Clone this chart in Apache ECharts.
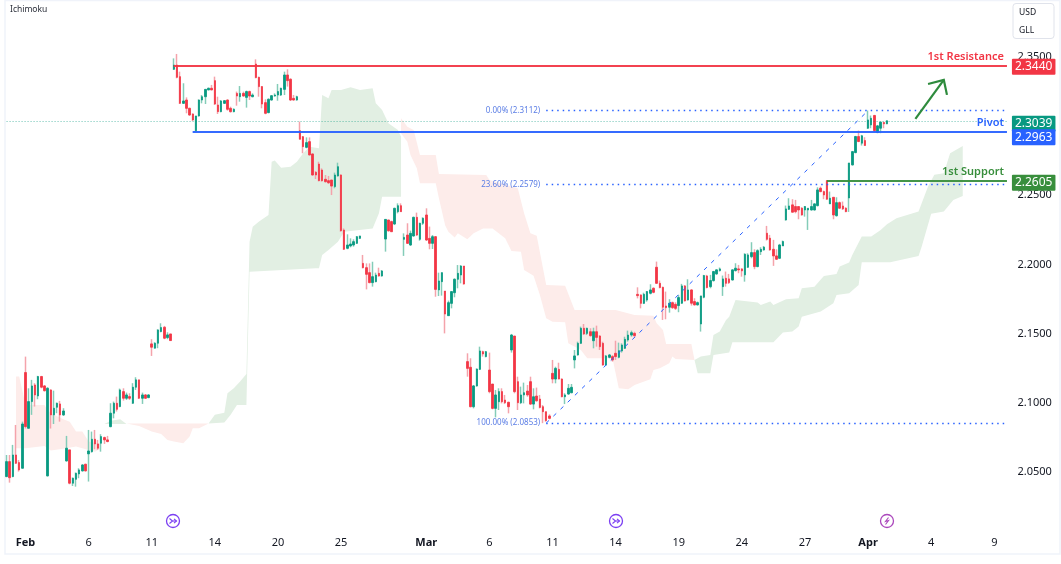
<!DOCTYPE html>
<html>
<head>
<meta charset="utf-8">
<style>
  html, body { margin: 0; padding: 0; background: #fff; }
  #main { width: 1061px; height: 564px; }
</style>
<script src="https://cdn.jsdelivr.net/npm/echarts@6/dist/echarts.min.js"></script>
</head>
<body>
<div id="main"></div>
<script>
// candles are [open, close, low, high], one group per stretch of the chart
var candlesFeb = [
  [2.0467,2.0575,2.0462,2.0623],[2.0575,2.0459,2.0423,2.0623],[2.0467,2.0623,2.0462,2.0696],[2.0623,2.0563,2.0558,2.0840],
  [2.0568,2.0515,2.0503,2.0587],[2.0527,2.0847,2.0525,2.0864],[2.1219,2.0828,2.0814,2.1334],[2.0816,2.1009,2.0814,2.1105],
  [2.1009,2.1122,2.0913,2.1166],[2.1129,2.1057,2.0973,2.1142],[2.1050,2.1190,2.1026,2.1195],[2.1190,2.1113,2.1105,2.1195],
  [2.1122,2.1088,2.1081,2.1129],[2.0472,2.1105,2.0467,2.1113],[2.1093,2.0913,2.0814,2.1098],[2.0913,2.0961,2.0847,2.1088],
  [2.0968,2.0997,2.0925,2.1002],[2.0992,2.0913,2.0864,2.1014],[2.0913,2.0941,2.0905,2.0961],
  [2.0580,2.0672,2.0575,2.0761],[2.0660,2.0419,2.0411,2.0660],[2.0419,2.0455,2.0399,2.0460],[2.0447,2.0491,2.0394,2.0496],
  [2.0486,2.0515,2.0455,2.0527],[2.0508,2.0551,2.0503,2.0556],[2.0556,2.0508,2.0503,2.0560],[2.0631,2.0652,2.0431,2.0804],
  [2.0647,2.0737,2.0640,2.0792],[2.0737,2.0703,2.0664,2.0804],[2.0703,2.0672,2.0660,2.0732],[2.0708,2.0756,2.0647,2.0773],
  [2.0749,2.0732,2.0703,2.0756],[2.0732,2.0720,2.0715,2.0761],
  [2.0828,2.0925,2.0823,2.0997],[2.0925,2.0997,2.0888,2.1009],[2.0997,2.0953,2.0937,2.1045],[2.0973,2.1093,2.0968,2.1103],
  [2.1081,2.1033,2.1016,2.1105],[2.1033,2.1057,2.1021,2.1074],[2.1045,2.1033,2.1021,2.1069],[2.0997,2.1113,2.0992,2.1142],
  [2.1113,2.1166,2.1093,2.1185],[2.1166,2.1033,2.1028,2.1166],[2.1033,2.1057,2.0992,2.1074],[2.1057,2.1033,2.1028,2.1064],
  [2.1038,2.1057,2.1033,2.1062],
  [2.1426,2.1402,2.1339,2.1460],[2.1395,2.1431,2.1392,2.1438],[2.1431,2.1527,2.1395,2.1532],[2.1515,2.1544,2.1510,2.1575],
  [2.1546,2.1467,2.1460,2.1556],[2.1472,2.1491,2.1460,2.1510],[2.1498,2.1450,2.1448,2.1498]
]
var candlesFebTop = [
  [2.3411,2.3442,2.3406,2.3490],[2.3442,2.3353,2.3346,2.3522],[2.3358,2.3165,2.3160,2.3394],[2.3165,2.3182,2.3160,2.3310],
  [2.3189,2.3129,2.3093,2.3208],[2.3129,2.3081,2.3074,2.3134],[2.3088,2.3045,2.3037,2.3093],[2.2967,2.3074,2.2960,2.3074],
  [2.3074,2.3189,2.3069,2.3194],[2.3189,2.3213,2.3165,2.3225],[2.3213,2.3266,2.3160,2.3269],[2.3262,2.3274,2.3259,2.3279],
  [2.3274,2.3262,2.3259,2.3298],[2.3329,2.3160,2.3153,2.3358],[2.3153,2.3105,2.3088,2.3213],[2.3105,2.3182,2.3100,2.3189],
  [2.3165,2.3184,2.3160,2.3189],[2.3189,2.3122,2.3112,2.3194],[2.3129,2.3105,2.3098,2.3141],[2.3105,2.3122,2.3100,2.3129],
  [2.3237,2.3218,2.3148,2.3250],[2.3213,2.3237,2.3177,2.3290],[2.3237,2.3218,2.3213,2.3250],[2.3208,2.3250,2.3134,2.3257],
  [2.3250,2.3218,2.3189,2.3257],[2.3213,2.3225,2.3208,2.3237],[2.3449,2.3351,2.3346,2.3483],[2.3353,2.3286,2.3213,2.3358],
  [2.3286,2.3160,2.3129,2.3290],[2.3170,2.3093,2.3086,2.3194],[2.3098,2.3194,2.3093,2.3201],[2.3189,2.3220,2.3184,2.3225],
  [2.3218,2.3225,2.3213,2.3237],[2.3225,2.3250,2.3184,2.3305],[2.3225,2.3274,2.3218,2.3278],[2.3266,2.3370,2.3225,2.3394],
  [2.3370,2.3329,2.3286,2.3411],[2.3339,2.3189,2.3182,2.3346],[2.3201,2.3189,2.3184,2.3225],[2.3189,2.3213,2.3184,2.3220]
]
var candlesFebFall = [
  [2.2967,2.2905,2.2905,2.3033],[2.2924,2.2852,2.2804,2.2929],[2.2847,2.2881,2.2840,2.2919],[2.2888,2.2792,2.2787,2.2919],
  [2.2799,2.2647,2.2642,2.2804],[2.2666,2.2647,2.2618,2.2676],[2.2726,2.2606,2.2601,2.2743],[2.2683,2.2606,2.2599,2.2695],
  [2.2616,2.2599,2.2591,2.2647],[2.2606,2.2591,2.2582,2.2640],[2.2611,2.2567,2.2502,2.2611],[2.2563,2.2647,2.2551,2.2664],
  [2.2640,2.2707,2.2635,2.2736],[2.2647,2.2244,2.2237,2.2652],[2.2249,2.2110,2.2105,2.2261],[2.2117,2.2141,2.2110,2.2218],
  [2.2134,2.2148,2.2124,2.2189],[2.2141,2.2165,2.2129,2.2182],[2.2153,2.2201,2.2148,2.2206],[2.2189,2.2206,2.2184,2.2208],
  [2.2008,2.1977,2.1972,2.2069],[2.1977,2.1929,2.1820,2.2008],[2.1941,2.1869,2.1864,2.2008],[2.1869,2.1912,2.1840,2.2020],
  [2.1876,2.1924,2.1871,2.1941],[2.1936,2.1917,2.1912,2.1977],[2.1917,2.1953,2.1912,2.1960],
  [2.2184,2.2326,2.2093,2.2329],[2.2322,2.2244,2.2237,2.2322],[2.2310,2.2237,2.2237,2.2317],[2.2293,2.2406,2.2285,2.2411],
  [2.2382,2.2425,2.2370,2.2442],[2.2425,2.2382,2.2380,2.2442]
]
var candlesMarch = [
  [2.2182,2.2196,2.2062,2.2225],[2.2213,2.2153,2.2148,2.2298],[2.2141,2.2225,2.2134,2.2245],[2.2206,2.2341,2.2201,2.2346],
  [2.2341,2.2213,2.2206,2.2375],[2.2182,2.2298,2.2172,2.2302],[2.2298,2.2334,2.2286,2.2341],[2.2358,2.2177,2.2170,2.2406],
  [2.2189,2.2153,2.2110,2.2274],[2.2153,2.2201,2.2112,2.2213],[2.2201,2.1820,2.1767,2.2206],[2.1816,2.1881,2.1772,2.1941],
  [2.1876,2.1941,2.1775,2.1943],[2.1808,2.1642,2.1502,2.1808],[2.1630,2.1724,2.1628,2.1739],[2.1719,2.1804,2.1683,2.1808],
  [2.1796,2.1893,2.1763,2.1900],[2.1893,2.1936,2.1828,2.1996],[2.1924,2.1989,2.1864,2.1996],[2.1989,2.1859,2.1854,2.1989],
  [2.1298,2.1249,2.1189,2.1358],[2.1257,2.0972,2.0967,2.1322],[2.0972,2.1122,2.0960,2.1129],[2.1122,2.1244,2.1117,2.1249],
  [2.1242,2.1375,2.1237,2.1406],[2.1370,2.1353,2.1334,2.1377],[2.1334,2.1370,2.1329,2.1375],[2.1237,2.1081,2.1069,2.1363],
  [2.1136,2.0960,2.0953,2.1136],[2.0960,2.1057,2.0895,2.1093],[2.1008,2.1081,2.0948,2.1105],[2.1081,2.1008,2.0996,2.1105],
  [2.1020,2.1001,2.0991,2.1057],[2.1004,2.0972,2.0924,2.1008],[2.1382,2.1490,2.1363,2.1498],[2.1483,2.1081,2.1069,2.1483],
  [2.1153,2.1001,2.0948,2.1189],[2.1001,2.1057,2.0991,2.1117],[2.1057,2.1073,2.0996,2.1146],[2.1085,2.1057,2.1044,2.1129],
  [2.1153,2.0991,2.0984,2.1189],[2.0991,2.1044,2.0953,2.1105],[2.1049,2.1015,2.1008,2.1110],[2.1027,2.0967,2.0960,2.1057],
  [2.0972,2.0936,2.0853,2.0984],[2.0936,2.0871,2.0864,2.0936],[2.0905,2.0888,2.0881,2.0917]
]
var candlesMarchRise = [
  [2.1213,2.1172,2.1141,2.1310],[2.1172,2.1249,2.1141,2.1261],[2.1242,2.1172,2.1170,2.1290],[2.1172,2.1044,2.1040,2.1177],
  [2.1044,2.1057,2.0991,2.1069],[2.1064,2.1105,2.1057,2.1136],[2.1073,2.1112,2.1069,2.1136],
  [2.1310,2.1339,2.1249,2.1382],[2.1346,2.1430,2.1341,2.1442],[2.1430,2.1539,2.1425,2.1551],[2.1539,2.1498,2.1490,2.1570],
  [2.1502,2.1539,2.1490,2.1543],[2.1514,2.1486,2.1478,2.1539],[2.1449,2.1514,2.1394,2.1543],[2.1514,2.1473,2.1406,2.1558],
  [2.1483,2.1406,2.1382,2.1490],[2.1430,2.1273,2.1269,2.1442],[2.1273,2.1339,2.1266,2.1346],[2.1329,2.1346,2.1322,2.1353],
  [2.1334,2.1310,2.1298,2.1346],[2.1358,2.1334,2.1310,2.1449],[2.1329,2.1377,2.1322,2.1435],[2.1375,2.1418,2.1363,2.1430],
  [2.1394,2.1459,2.1389,2.1478],[2.1454,2.1490,2.1442,2.1522],[2.1490,2.1507,2.1478,2.1522],[2.1502,2.1486,2.1473,2.1514],
  [2.1784,2.1775,2.1755,2.1835],[2.1780,2.1719,2.1683,2.1784],[2.1719,2.1784,2.1714,2.1796],[2.1743,2.1804,2.1731,2.1808],
  [2.1792,2.1816,2.1784,2.1857],[2.1828,2.1799,2.1792,2.1835]
]
var candlesLate = [
  [2.1980,2.1864,2.1859,2.2021],[2.1864,2.1833,2.1828,2.1884],[2.1835,2.1691,2.1599,2.1840],[2.1700,2.1688,2.1604,2.1804],
  [2.1691,2.1720,2.1652,2.1749],[2.1724,2.1688,2.1679,2.1732],[2.1712,2.1683,2.1671,2.1727],[2.1703,2.1761,2.1655,2.1780],
  [2.1720,2.1845,2.1715,2.1860],[2.1845,2.1737,2.1732,2.1852],[2.1744,2.1816,2.1739,2.1893],[2.1816,2.1720,2.1703,2.1821],
  [2.1732,2.1708,2.1703,2.1756],[2.1708,2.1724,2.1703,2.1732],[2.1570,2.1773,2.1515,2.1773],[2.1763,2.1920,2.1756,2.1925],
  [2.1917,2.1833,2.1828,2.1925],[2.1840,2.1884,2.1828,2.1925],[2.1884,2.1949,2.1876,2.1954],[2.1932,2.1961,2.1925,2.1966],
  [2.1956,2.1968,2.1949,2.1978],[2.1840,2.1896,2.1773,2.1920],[2.1900,2.1864,2.1840,2.1949],[2.1896,2.1869,2.1859,2.1932],
  [2.1888,2.1961,2.1884,2.1966],[2.1956,2.1973,2.1949,2.2009],[2.1968,2.1961,2.1937,2.1997],[2.1968,2.1954,2.1912,2.1973],
  [2.1925,2.2074,2.1876,2.2081],[2.1980,2.2069,2.1975,2.2081],[2.2057,2.2086,2.2045,2.2161],[2.2086,2.1985,2.1966,2.2110],
  [2.1985,2.2100,2.1980,2.2110],[2.2093,2.2110,2.2069,2.2125],[2.2105,2.2125,2.2100,2.2134],[2.2226,2.2182,2.2173,2.2279],
  [2.2190,2.2105,2.2100,2.2214],[2.2110,2.2062,2.1990,2.2178],[2.2062,2.2038,2.2033,2.2110],[2.2045,2.2141,2.2040,2.2149],
  [2.2134,2.2166,2.2134,2.2173],
  [2.2322,2.2402,2.2317,2.2426],[2.2399,2.2423,2.2394,2.2479],[2.2431,2.2378,2.2375,2.2472],[2.2419,2.2382,2.2370,2.2467],
  [2.2419,2.2394,2.2327,2.2419],[2.2407,2.2358,2.2353,2.2414],[2.2394,2.2419,2.2346,2.2423],[2.2394,2.2407,2.2250,2.2407],
  [2.2394,2.2419,2.2390,2.2467],[2.2394,2.2438,2.2390,2.2443],[2.2426,2.2539,2.2419,2.2558],[2.2551,2.2527,2.2522,2.2563],
  [2.2527,2.2503,2.2472,2.2534],[2.2607,2.2472,2.2467,2.2607],[2.2438,2.2479,2.2438,2.2527],[2.2486,2.2358,2.2327,2.2486],
  [2.2353,2.2447,2.2346,2.2486],[2.2447,2.2407,2.2402,2.2455],[2.2423,2.2402,2.2394,2.2455],[2.2407,2.2382,2.2378,2.2414],
  [2.2481,2.2734,2.2380,2.2734],[2.2720,2.2816,2.2715,2.2821],[2.2809,2.2925,2.2804,2.2930],[2.2925,2.2889,2.2884,2.2968],
  [2.2877,2.2930,2.2860,2.2937],[2.2896,2.2860,2.2857,2.2920],
  [2.2985,2.3045,2.2980,2.3113],[2.3009,2.3057,2.2985,2.3077],[2.3077,2.2968,2.2961,2.3082],[2.2954,2.3002,2.2949,2.3009],
  [2.2985,2.3029,2.2949,2.3033],[2.3026,2.3017,2.2985,2.3033],[2.3017,2.3039,2.3014,2.3041]
]

// ichimoku cloud outlines, [bar, price]
var cloudRedA = [[3,2.1190],[4,2.1190],[6,2.0985],[12,2.0985],[13,2.0949],[14,2.0925],[18,2.0881],[20,2.0864],[22,2.0792],[24,2.0792],[26,2.0720],[30,2.0700],
  [30,2.0672],[28,2.0647],[26,2.0659],[22,2.0684],[19,2.0672],[14,2.0655],[12,2.0688],[6,2.0672],[3,2.0672]]
var cloudGreenA = [[31,2.0847],[33,2.0871],[36,2.0881],[38,2.0847]]
var cloudRedB = [[38,2.0850],[64,2.0850],[61,2.0816],[59,2.0816],[58,2.0756],[56,2.0708],[53,2.0720],[51,2.0732],[49,2.0775],[46,2.0792],[42,2.0833]]
var cloudGreenB = [[64,2.0850],[66,2.0913],[69,2.0929],[70,2.1069],[72,2.1105],[74,2.1154],[76,2.1209],[77,2.2165],[78,2.2273],[80,2.2310],[83,2.2358],[84,2.2743],
  [85,2.2751],[87,2.2700],[90,2.2707],[92,2.2743],[94,2.2804],[96,2.2852],[99,2.2840],[100,2.3225],[102,2.3201],[103,2.3262],[106,2.3262],[109,2.3281],[112,2.3262],
  [116,2.3274],[117,2.3165],[119,2.3117],[121,2.3021],[124,2.2972],[125,2.2924],[125,2.2490],[119,2.2490],[118,2.2370],[116,2.2261],[107,2.2237],[105,2.2165],
  [102,2.2105],[100,2.2069],[99,2.1972],[98,2.1972],[77,2.1948],[76,2.0985],[73,2.0985],[71,2.0913],[69,2.0857]]
var cloudRedC = [[125,2.3057],[127,2.2996],[129,2.2972],[131,2.2791],[136,2.2791],[137,2.2654],[152,2.2647],[153,2.2611],[162,2.2551],[164,2.2370],[166,2.2225],
  [168,2.2208],[171,2.1852],[177,2.1847],[180,2.1671],[193,2.1671],[199,2.1635],[205,2.1630],[206,2.1575],[208,2.1527],[209,2.1426],[217,2.1426],[218,2.1310],
  [212,2.1317],[211,2.1334],[210,2.1286],[207,2.1250],[205,2.1238],[204,2.1170],[199,2.1129],[197,2.1098],[194,2.1105],[193,2.1213],[192,2.1322],[184,2.1322],
  [182,2.1382],[178,2.1430],[177,2.1582],[173,2.1587],[171,2.1611],[169,2.1779],[167,2.1919],[164,2.1960],[163,2.2093],[160,2.2097],[158,2.2189],[154,2.2261],
  [151,2.2261],[148,2.2225],[146,2.2182],[143,2.2225],[142,2.2196],[140,2.2237],[139,2.2281],[137,2.2478],[136,2.2587],[131,2.2587],[130,2.2695],[128,2.2791],
  [127,2.2888],[125,2.2948]]
var cloudGreenC = [[218,2.1310],[220,2.1334],[223,2.1346],[224,2.1491],[226,2.1515],[228,2.1599],[229,2.1623],[231,2.1744],[238,2.1725],[239,2.1708],[242,2.1732],
  [243,2.1708],[247,2.1749],[251,2.1756],[252,2.1828],[256,2.1840],[259,2.1917],[263,2.1932],[264,2.1985],[267,2.2014],[268,2.2069],[271,2.2202],[274,2.2202],
  [277,2.2250],[279,2.2291],[282,2.2334],[289,2.2383],[292,2.2563],[294,2.2648],[297,2.2660],[299,2.2804],[303,2.2857],[303,2.2496],[300,2.2467],[297,2.2383],
  [293,2.2366],[290,2.2130],[289,2.2062],[280,2.2016],[271,2.2016],[270,2.1852],[267,2.1792],[263,2.1780],[262,2.1720],[258,2.1660],[252,2.1623],[251,2.1551],
  [249,2.1515],[246,2.1508],[243,2.1438],[230,2.1438],[229,2.1363],[224,2.1346],[223,2.1214],[219,2.1214]]

// price levels
var resistance = 2.3440
var pivot = 2.2963
var support = 2.2605
var lastPrice = 2.3039
var fibLevels = [2.3112, 2.2579, 2.0853]
var fibNames = ['0.00%', '23.60%', '100.00%']
var arrowPoints = [[292,2.3305],[297,2.3334],[298,2.3226]]
var arrowShaft = [[288,2.3052],[297,2.3334]]

// time axis
var barCount = 318
var tickBars = [6,26,46,66,86,106,133,153,173,193,213,233,253,273,293,313]
var tickLabels = ['Feb','6','11','14','20','25','Mar','6','11','14','19','24','27','Apr','4','9']
var monthLabels = ['Feb','Mar','Apr']

var categories = []
for (var b = 0; b < barCount; b++) {
  var t = tickBars.indexOf(b)
  categories.push(t >= 0 ? tickLabels[t] : '')
}
var candles = candlesFeb.concat(candlesFebTop, candlesFebFall, candlesMarch, candlesMarchRise, candlesLate)
var bodies = candles.map(function (c) {
  return [c[0], c[1], Math.min(c[0], c[1]), Math.max(c[0], c[1])]
})
var lastBar = barCount - 1
var FONT = '"Noto Sans", sans-serif'

function shapeSeries(points, fill, stroke) {
  return {
    type: 'custom',
    silent: true,
    z: stroke ? 6 : 1,
    data: points,
    renderItem: function (params, api) {
      if (params.dataIndex !== 0) return null
      var pts = points.map(function (p) { return api.coord(p) })
      if (stroke) {
        return { type: 'polyline', shape: { points: pts }, style: { stroke: stroke, lineWidth: 2.2, fill: null } }
      }
      return { type: 'polygon', shape: { points: pts }, style: { fill: fill } }
    }
  }
}

function tag(text, bg, offsetY) {
  return {
    show: true, position: 'end', distance: 5, formatter: text, color: '#fff', backgroundColor: bg,
    fontFamily: FONT, fontSize: 12, lineHeight: 12, padding: [2, 3, 2, 3], borderRadius: 1,
    offset: [0, offsetY || 0]
  }
}
function sideText(text, color) {
  return { show: true, position: 'insideEndTop', distance: 3, formatter: text, color: color, fontFamily: FONT, fontSize: 11, fontWeight: 600 }
}
function level(from, value, style, label) {
  return [
    { coord: [from, value], lineStyle: style, label: label },
    { coord: [lastBar, value] }
  ]
}

var redLine = { color: '#f23645', width: 1.5, type: 'solid' }
var blueLine = { color: '#2962ff', width: 1.5, type: 'solid' }
var greenLine = { color: '#388e3c', width: 1.5, type: 'solid' }
var fibLine = { color: '#2962ff', width: 1.4, type: [1.5, 4] }

var levelData = [
  level(0, lastPrice, { color: 'rgba(8,153,129,0.6)', width: 1, type: [1, 2] }, tag(lastPrice.toFixed(4), '#089981', 3)),
  level(53, resistance, redLine, tag(resistance.toFixed(4), '#f23645', 1.5)),
  level(53, resistance, redLine, sideText('1st Resistance', '#f23645')),
  level(59, pivot, blueLine, tag(pivot.toFixed(4), '#2962ff', 6)),
  level(59, pivot, blueLine, sideText('Pivot', '#2962ff')),
  level(260, support, greenLine, tag(support.toFixed(4), '#388e3c', 2)),
  level(260, support, greenLine, sideText('1st Support', '#388e3c'))
]
fibLevels.forEach(function (v, n) {
  levelData.push(level(171, v, fibLine, {
    show: true, position: 'start', distance: 6, formatter: fibNames[n] + ' (' + v.toFixed(4) + ')',
    color: '#5b7ee5', fontFamily: FONT, fontSize: 8
  }))
})
levelData.push([
  { coord: [171, fibLevels[2]], lineStyle: { color: '#2962ff', width: 1, type: [4, 6] }, label: { show: false } },
  { coord: [273, fibLevels[0]] }
])

function eventIcon(x, color, inner) {
  return {
    type: 'group', x: x, y: 521, children: [
      { type: 'circle', shape: { cx: 0, cy: 0, r: 6.5 }, style: { fill: '#fff', stroke: color, lineWidth: 1.3 } }
    ].concat(inner.map(function (pts) {
      return { type: 'polyline', shape: { points: pts }, style: { stroke: color, fill: null, lineWidth: 1.1 } }
    }))
  }
}
var ARROWS = [[[-3.5, -2.5], [-0.5, 0], [-3.5, 2.5]], [[-0.5, 0], [3.5, 0]], [[1, -2.2], [3.5, 0], [1, 2.2]]]
var BOLT = [[[1.5, -3.5], [-1.5, 0.5], [1.5, -0.5], [-1.5, 3.5]]]

var myChart = echarts.init(document.getElementById('main'), null, { renderer: 'canvas' })

var option = {
  animation: false,
  backgroundColor: '#fff',
  textStyle: { fontFamily: FONT },
  grid: { left: 5, top: 1.66, width: 1003.5, height: 539.5, containLabel: false },
  xAxis: {
    type: 'category',
    data: categories,
    axisLine: { show: false },
    axisTick: { show: false },
    splitLine: { show: false },
    axisLabel: {
      interval: 0, margin: -4, color: '#131722', fontFamily: FONT, fontSize: 11, hideOverlap: false,
      formatter: function (v) {
        return monthLabels.indexOf(v) >= 0 ? '{m|' + v + '}' : v
      },
      rich: { m: { fontWeight: 'bold', fontSize: 11, color: '#131722', fontFamily: FONT } }
    }
  },
  yAxis: {
    type: 'value',
    position: 'right',
    min: 2,
    max: 2.39,
    interval: 0.05,
    axisLine: { show: false },
    axisTick: { show: false },
    splitLine: { show: false },
    axisLabel: {
      margin: 9, color: '#131722', fontFamily: FONT, fontSize: 11, showMinLabel: false, showMaxLabel: false,
      padding: [2, 0, 0, 0],
      formatter: function (v) { return v.toFixed(4) }
    }
  },
  graphic: [
    { type: 'rect', shape: { x: 5, y: 0.5, width: 1055, height: 553.5 }, style: { fill: 'none', stroke: '#f0f3fa', lineWidth: 1.5 }, z: 0 },
    { type: 'text', x: 10, y: 5, style: { text: 'Ichimoku', fill: '#2a2e39', font: '8.5px ' + FONT }, z: 10 },
    { type: 'rect', shape: { x: 1013, y: 3.5, width: 41, height: 35, r: 3 }, style: { fill: '#fff', stroke: '#e0e3eb', lineWidth: 1 }, z: 10 },
    { type: 'text', x: 1019, y: 8, style: { text: 'USD', fill: '#131722', font: '8.5px ' + FONT }, z: 11 },
    { type: 'text', x: 1019, y: 26, style: { text: 'GLL', fill: '#131722', font: '8.5px ' + FONT }, z: 11 },
    eventIcon(173, '#7b3ff2', ARROWS),
    eventIcon(616, '#7b3ff2', ARROWS),
    eventIcon(887, '#ab47bc', BOLT)
  ],
  series: [
    shapeSeries(cloudRedA, '#fdecea'),
    shapeSeries(cloudGreenA, '#e2efe3'),
    shapeSeries(cloudRedB, '#fdecea'),
    shapeSeries(cloudGreenB, '#e2efe3'),
    shapeSeries(cloudRedC, '#fdecea'),
    shapeSeries(cloudGreenC, '#e2efe3'),
    {
      // wicks
      type: 'candlestick',
      data: candles,
      barWidth: 1,
      z: 3,
      silent: true,
      itemStyle: { color: '#84ccb8', color0: '#f4a3ab', borderColor: '#84ccb8', borderColor0: '#f4a3ab', borderWidth: 1.5 }
    },
    {
      // bodies
      type: 'candlestick',
      data: bodies,
      barWidth: 2,
      z: 4,
      silent: true,
      itemStyle: { color: '#089981', color0: '#f23645', borderColor: '#089981', borderColor0: '#f23645', borderWidth: 0.8 }
    },
    {
      type: 'line',
      data: [],
      z: 5,
      clip: false,
      silent: true,
      markLine: { silent: true, symbol: 'none', animation: false, z: 5, data: levelData, label: { show: false } }
    },
    shapeSeries(arrowShaft, null, '#2e8b3d'),
    shapeSeries(arrowPoints, null, '#2e8b3d')
  ]
}

myChart.setOption(option)
</script>
</body>
</html>
